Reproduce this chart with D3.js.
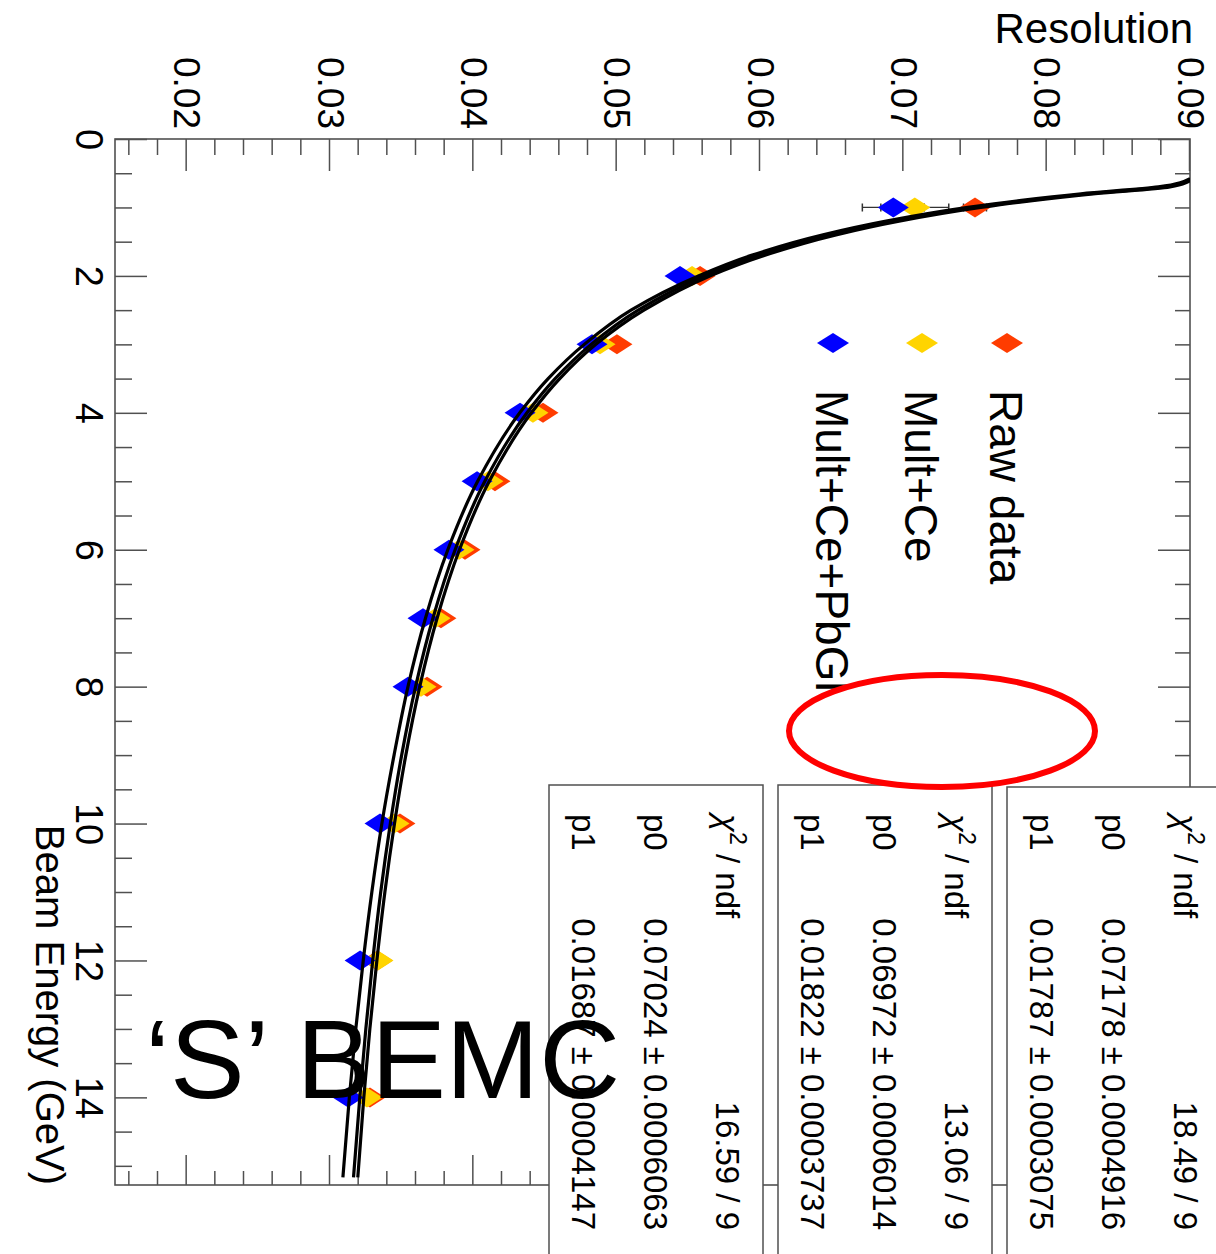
<!DOCTYPE html>
<html><head><meta charset="utf-8">
<script src="https://cdn.jsdelivr.net/npm/d3@7/dist/d3.min.js"></script>
<style>
body{margin:0;background:#fff}
svg{display:block}
text{font-family:"Liberation Sans",Arial,Helvetica,sans-serif}
</style>
</head><body>
<svg id="c" width="1216" height="1254"></svg>
<script>
// ---------------- data ----------------
const energies = [1, 2, 3, 4, 5, 6, 7, 8, 10, 12, 14];
const seriesNames = ["Raw data", "Mult+Ce", "Mult+Ce+PbGl"];
const seriesColors = ["#ff3c00", "#ffd400", "#0000ff"];
const rawData    = [0.0750, 0.05582, 0.05002, 0.04486, 0.04151, 0.03942, 0.03774, 0.03677, 0.03488, 0.03330, 0.03279];
const multCe     = [0.0708, 0.05526, 0.04884, 0.04416, 0.04102, 0.03900, 0.03733, 0.03635, 0.03447, 0.03335, 0.03258];
const multCePbGl = [0.0693, 0.05442, 0.04828, 0.04326, 0.04026, 0.03830, 0.03649, 0.03544, 0.03349, 0.03210, 0.03126];
const rawErr     = [0.0008, 0.0003, 0.0003, 0.0002, 0.0002, 0.0002, 0.0002, 0.0002, 0.0002, 0.0002, 0.0002];
const multCeErr  = [0.00237, 0.0004, 0.0003, 0.0002, 0.0002, 0.0002, 0.0002, 0.0002, 0.0002, 0.0002, 0.0002];
const pbGlErr    = [0.00216, 0.0004, 0.0003, 0.0002, 0.0002, 0.0002, 0.0002, 0.0002, 0.0002, 0.0002, 0.0002];

// fit curves
const fitEnergies = [0.58, 0.7, 0.8, 0.9, 1.0, 1.2, 1.4, 1.7, 2.0, 2.5, 3.0, 3.5, 4.0, 5.0, 6.0, 7.0, 8.0, 9.0, 10.0, 11.0, 12.0, 13.0, 14.0, 15.17];
const fitRaw  = [0.0902, 0.0886, 0.0834, 0.0790, 0.0754, 0.0697, 0.0653, 0.0603, 0.0565, 0.0519, 0.04855, 0.04603, 0.04405, 0.04111, 0.03903, 0.03747, 0.03626, 0.03529, 0.03450, 0.03383, 0.03327, 0.03278, 0.03236, 0.03194];
const fitCe   = [0.0901, 0.0882, 0.0829, 0.0786, 0.0750, 0.0693, 0.0649, 0.0599, 0.0561, 0.0515, 0.04822, 0.04571, 0.04374, 0.04080, 0.03873, 0.03718, 0.03597, 0.03500, 0.03421, 0.03354, 0.03298, 0.03250, 0.03208, 0.03164];
const fitPbGl = [0.0900, 0.0878, 0.0824, 0.0781, 0.0745, 0.0688, 0.0644, 0.0594, 0.0557, 0.0510, 0.04774, 0.04522, 0.04324, 0.04030, 0.03822, 0.03666, 0.03544, 0.03447, 0.03362, 0.03292, 0.03232, 0.03180, 0.03135, 0.03090];

const statLabels = ["\u03C7", "p0", "p1"];
const chi2Values = ["18.49 / 9", "13.06 / 9", "16.59 / 9"];
const p0Values   = ["0.07178 \u00B1 0.0004916", "0.06972 \u00B1 0.0006014", "0.07024 \u00B1 0.0006063"];
const p1Values   = ["0.01787 \u00B1 0.0003075", "0.01822 \u00B1 0.0003737", "0.01687 \u00B1 0.0004147"];

const resTicks = [0.02, 0.03, 0.04, 0.05, 0.06, 0.07, 0.08, 0.09];
const resTickLabels = ["0.02", "0.03", "0.04", "0.05", "0.06", "0.07", "0.08", "0.09"];
const energyTicks = [0, 2, 4, 6, 8, 10, 12, 14];
const energyTickLabels = ["0", "2", "4", "6", "8", "10", "12", "14"];

const xTitle = "Beam Energy (GeV)";
const yTitle = "Resolution";
const overlayText = "\u2018S\u2019 BEMC";

// ---------------- drawing ----------------
const svg = d3.select("#c");
// chart is drawn unrotated, then turned 90deg clockwise
const g = svg.append("g").attr("transform", "translate(1216,0) rotate(90)");

const x = d3.scaleLinear().domain([0, 15.28]).range([139, 1185]);
const y = d3.scaleLinear().domain([0.015, 0.09]).range([1101, 26]);

g.append("clipPath").attr("id", "fr").append("rect")
  .attr("x", x.range()[0]).attr("y", y.range()[1])
  .attr("width", x.range()[1] - x.range()[0]).attr("height", y.range()[0] - y.range()[1]);

const axCol = "#505050";
const resMinor = d3.range(0.016, 0.0895, 0.002).filter(v => Math.abs(v * 100 - Math.round(v * 100)) > 1e-6);
const eMinor = d3.range(0.5, 15.3, 0.5).filter(v => v % 2 !== 0);

function tidy(sel, fs) {
  sel.select(".domain").remove();
  sel.selectAll("line").attr("stroke", axCol).attr("stroke-width", 1.5);
  sel.selectAll("text").attr("fill", "#000").attr("font-size", fs)
     .style("font-family", '"Liberation Sans",Arial,sans-serif');
}

// Resolution axis (left in unrotated frame)
const yAx = g.append("g").attr("transform", `translate(${x.range()[0]},0)`)
  .call(d3.axisLeft(y).tickValues(resTicks).tickFormat((d, i) => resTickLabels[i]).tickSize(-32).tickPadding(10));
tidy(yAx, 37);
const yAxm = g.append("g").attr("transform", `translate(${x.range()[0]},0)`)
  .call(d3.axisLeft(y).tickValues(resMinor).tickFormat("").tickSize(-16));
tidy(yAxm, 10);
// mirror on opposite side
const yAxR = g.append("g").attr("transform", `translate(${x.range()[1]},0)`)
  .call(d3.axisRight(y).tickValues(resTicks).tickFormat("").tickSize(-30));
tidy(yAxR, 10);
const yAxRm = g.append("g").attr("transform", `translate(${x.range()[1]},0)`)
  .call(d3.axisRight(y).tickValues(resMinor).tickFormat("").tickSize(-14));
tidy(yAxRm, 10);

// Energy axis (bottom in unrotated frame)
const xAx = g.append("g").attr("transform", `translate(0,${y.range()[0]})`)
  .call(d3.axisBottom(x).tickValues(energyTicks).tickFormat((d, i) => energyTickLabels[i]).tickSize(-32).tickPadding(12));
tidy(xAx, 38);
const xAxm = g.append("g").attr("transform", `translate(0,${y.range()[0]})`)
  .call(d3.axisBottom(x).tickValues(eMinor).tickFormat("").tickSize(-17));
tidy(xAxm, 10);
const xAxT = g.append("g").attr("transform", `translate(0,${y.range()[1]})`)
  .call(d3.axisTop(x).tickValues(energyTicks).tickFormat("").tickSize(-32));
tidy(xAxT, 10);
const xAxTm = g.append("g").attr("transform", `translate(0,${y.range()[1]})`)
  .call(d3.axisTop(x).tickValues(eMinor).tickFormat("").tickSize(-15));
tidy(xAxTm, 10);

// frame
g.append("rect")
  .attr("x", x.range()[0]).attr("y", y.range()[1])
  .attr("width", x.range()[1] - x.range()[0]).attr("height", y.range()[0] - y.range()[1])
  .attr("fill", "none").attr("stroke", axCol).attr("stroke-width", 1.6);

// axis title
g.append("text").attr("x", x.range()[1]).attr("y", 1180)
  .attr("text-anchor", "end").attr("font-size", 40).text(xTitle);

// data
const series = [
  {vals: rawData, err: rawErr, color: seriesColors[0], fit: fitRaw},
  {vals: multCe, err: multCeErr, color: seriesColors[1], fit: fitCe},
  {vals: multCePbGl, err: pbGlErr, color: seriesColors[2], fit: fitPbGl}
];
const diamond = (hw, hh) => `M0,${-hh}L${hw},0L0,${hh}L${-hw},0Z`;

const plot = g.append("g").attr("clip-path", "url(#fr)");
series.forEach(s => {
  const eg = plot.append("g");
  energies.forEach((e, i) => {
    const y0 = y(s.vals[i] - s.err[i]), y1 = y(s.vals[i] + s.err[i]);
    eg.append("line").attr("x1", x(e)).attr("x2", x(e)).attr("y1", y0).attr("y2", y1)
      .attr("stroke", "#333").attr("stroke-width", 1.3);
    [y0, y1].forEach(yy => eg.append("line").attr("x1", x(e) - 4).attr("x2", x(e) + 4)
      .attr("y1", yy).attr("y2", yy).attr("stroke", "#333").attr("stroke-width", 1.5));
  });
});
series.forEach(s => {
  plot.append("g").selectAll("path").data(energies).join("path")
    .attr("transform", (e, i) => `translate(${x(e)},${y(s.vals[i])})`)
    .attr("d", diamond(10, 15.5)).attr("fill", s.color);
});
const line = d3.line().x((d, i) => x(fitEnergies[i])).y(d => y(d)).curve(d3.curveMonotoneX);
series.forEach(s => {
  plot.append("path").datum(s.fit).attr("d", line)
    .attr("fill", "none").attr("stroke", "#000").attr("stroke-width", 3.2);
});

// legend
const legU = 343, legV = [209, 294, 383];
seriesNames.forEach((n, i) => {
  g.append("path").attr("transform", `translate(${legU},${legV[i]})`)
    .attr("d", diamond(10, 16)).attr("fill", seriesColors[i]);
  g.append("text").attr("x", 390).attr("y", legV[i]).attr("dy", "0.36em")
    .attr("font-size", 46).text(n);
});

// stats boxes
const boxTop = [-5, 224, 453];
const rowOff = [35, 107, 179];
for (let i = 0; i < 3; i++) {
  const bg = g.append("g");
  bg.append("rect").attr("x", i === 0 ? 787 : 785).attr("y", boxTop[i])
    .attr("width", 540).attr("height", 214)
    .attr("fill", "#fff").attr("stroke", axCol).attr("stroke-width", 1.5);
  const fs = 33;
  // chi2 / ndf
  const t0 = bg.append("text").attr("x", 814).attr("y", boxTop[i] + rowOff[0]).attr("dy", "0.36em").attr("font-size", fs);
  t0.append("tspan").attr("font-style", "italic").text(statLabels[0]);
  t0.append("tspan").attr("font-size", fs * 0.7).attr("dy", "-0.6em").text("2");
  t0.append("tspan").attr("dy", "0.42em").text(" / ndf");
  bg.append("text").attr("x", 1230).attr("y", boxTop[i] + rowOff[0]).attr("dy", "0.36em")
    .attr("text-anchor", "end").attr("font-size", fs).text(chi2Values[i]);
  bg.append("text").attr("x", 814).attr("y", boxTop[i] + rowOff[1]).attr("dy", "0.36em").attr("font-size", fs).text(statLabels[1]);
  bg.append("text").attr("x", 1230).attr("y", boxTop[i] + rowOff[1]).attr("dy", "0.36em")
    .attr("text-anchor", "end").attr("font-size", fs).text(p0Values[i]);
  bg.append("text").attr("x", 814).attr("y", boxTop[i] + rowOff[2]).attr("dy", "0.36em").attr("font-size", fs).text(statLabels[2]);
  bg.append("text").attr("x", 1230).attr("y", boxTop[i] + rowOff[2]).attr("dy", "0.36em")
    .attr("text-anchor", "end").attr("font-size", fs).text(p1Values[i]);
}

// ---------- screen overlays ----------
svg.append("text").attr("x", 1193).attr("y", 43).attr("text-anchor", "end")
  .attr("font-size", 42).text(yTitle);

svg.append("ellipse").attr("cx", 942).attr("cy", 731).attr("rx", 153).attr("ry", 56)
  .attr("fill", "#fff").attr("stroke", "#ff0000").attr("stroke-width", 6);

svg.append("text").attr("x", 145).attr("y", 1098).attr("font-size", 112)
  .attr("fill", "#000").text(overlayText);
</script>
</body></html>
